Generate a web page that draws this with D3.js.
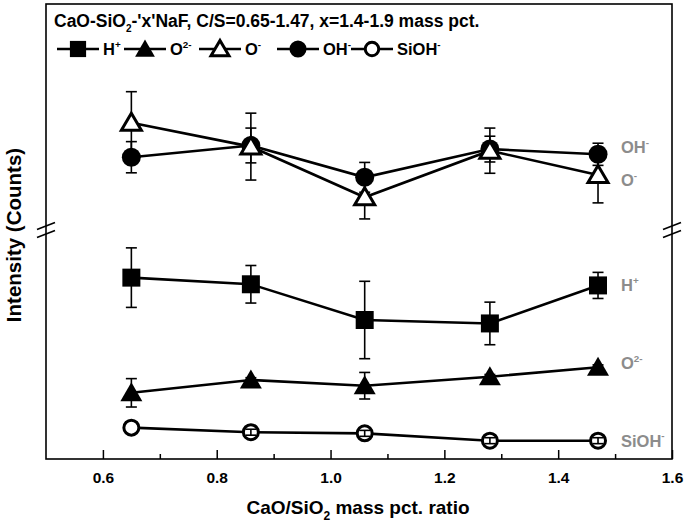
<!DOCTYPE html>
<html><head><meta charset="utf-8">
<script src="https://cdn.jsdelivr.net/npm/d3@7"></script>
<style>body{margin:0;background:#fff}svg{display:block}text{font-family:"Liberation Sans",Arial,sans-serif;font-weight:bold}</style>
</head><body>
<script>
// ---- data (arbitrary intensity units) ----
const ratios = [0.65, 0.86, 1.06, 1.28, 1.47];
// lower panel
const hPlus = [79.2, 76.3, 60.7, 59.2, 75.8];
const hPlusErr = [13.0, 8.2, 16.9, 9.3, 5.7];
const o2Minus = [28.9, 34.5, 32.0, 35.9, 40.1];
const o2MinusErr = [6.2, 1.0, 5.8, 1.0, 1.0];
const siOH = [13.7, 11.7, 11.2, 8.0, 8.0];
const siOHErr = [0, 1.3, 1.3, 1.3, 1.3];
// upper panel
const oMinus = [47.5, 36.9, 14.5, 35.1, 24.3];
const oMinusErr = [13.7, 14.8, 9.6, 10.0, 12.3];
const ohMinus = [32.2, 37.4, 23.3, 35.8, 33.5];
const ohMinusErr = [6.9, 7.7, 6.6, 5.7, 4.9];
const xTicks = [0.6, 0.8, 1.0, 1.2, 1.4, 1.6];
const xMinorTicks = [0.7, 0.9, 1.1, 1.3, 1.5];
const seriesNames = ["H", "O", "O", "OH", "SiOH"];
const seriesCharges = ["+", "2-", "-", "-", "-"];

(function () {
const W = 685, H = 528;
const pL = 46, pR = 672, pT = 4, pB = 459, brk = 230;
const svg = d3.select("body").append("svg").attr("width", W).attr("height", H);

const x = d3.scaleLinear().domain([0.5, 1.6]).range([pL, pR]);
const yLow = d3.scaleLinear().domain([0, 100]).range([pB, brk]);
const yHigh = d3.scaleLinear().domain([0, 100]).range([brk, pT]);

// frame
svg.append("rect").attr("x", pL).attr("y", pT).attr("width", pR - pL).attr("height", pB - pT)
  .attr("fill", "none").attr("stroke", "#000").attr("stroke-width", 1.6);

// x axis
const gx = svg.append("g").attr("transform", `translate(0,${pB})`)
  .call(d3.axisBottom(x).tickValues(xTicks).tickSize(-9).tickPadding(13).tickFormat(d3.format(".1f")));
gx.select(".domain").remove();
gx.selectAll(".tick line").attr("stroke-width", 1.5);
gx.selectAll("text").attr("font-size", 15.5).attr("font-family", '"Liberation Sans",Arial,sans-serif').attr("font-weight", "bold").attr("fill", "#000");
const gxm = svg.append("g").attr("transform", `translate(0,${pB})`)
  .call(d3.axisBottom(x).tickValues(xMinorTicks).tickSize(-5).tickFormat(""));
gxm.select(".domain").remove();
gxm.selectAll(".tick line").attr("stroke-width", 1.5);

// axis breaks
[pL, pR].forEach(ax => {
  [-4, 4].forEach(off => {
    svg.append("line").attr("x1", ax - 9).attr("y1", brk + off + 3.5)
      .attr("x2", ax + 9).attr("y2", brk + off - 3.5)
      .attr("stroke", "#000").attr("stroke-width", 1.6);
  });
});

// axis titles
const xt = svg.append("text").attr("x", 358).attr("y", 514).attr("text-anchor", "middle").attr("font-size", 19);
xt.append("tspan").text("CaO/SiO");
xt.append("tspan").text("2").attr("font-size", 12).attr("dy", 6);
xt.append("tspan").text(" mass pct. ratio").attr("dy", -6);
svg.append("text").attr("transform", "translate(21,235) rotate(-90)").attr("text-anchor", "middle")
  .attr("font-size", 20.5).text("Intensity (Counts)");

// marker shapes
function markerPath(type) {
  if (type === "square") return "M-9,-9H9V9H-9Z";
  if (type === "triangle") return "M0,-10.5L11,8.5L-11,8.5Z";
  if (type === "otriangle") return "M0,-9.5L10,7.5L-10,7.5Z";
  return null;
}
function drawMarker(g, type, cx, cy, scale) {
  scale = scale || 1;
  if (type === "circle") {
    g.append("circle").attr("cx", cx).attr("cy", cy).attr("r", 9.5 * scale).attr("fill", "#000");
  } else if (type === "ocircle") {
    g.append("circle").attr("cx", cx).attr("cy", cy).attr("r", 7.5 * scale).attr("fill", "#fff")
      .attr("stroke", "#000").attr("stroke-width", 3);
  } else if (type === "otriangle") {
    g.append("path").attr("d", markerPath(type)).attr("transform", `translate(${cx},${cy}) scale(${scale})`)
      .attr("fill", "#fff").attr("stroke", "#000").attr("stroke-width", 3 / scale).attr("stroke-linejoin", "miter");
  } else {
    g.append("path").attr("d", markerPath(type)).attr("transform", `translate(${cx},${cy}) scale(${scale})`).attr("fill", "#000");
  }
}

function drawSeries(vals, errs, y, type, errOnTop) {
  const g = svg.append("g");
  const pts = ratios.map((r, i) => [x(r), y(vals[i])]);
  g.append("path").attr("d", d3.line()(pts)).attr("fill", "none").attr("stroke", "#000").attr("stroke-width", 2.6);
  const drawErr = () => {
    ratios.forEach((r, i) => {
      if (!errs[i]) return;
      const cx = x(r), y1 = y(vals[i] + errs[i]), y2 = y(vals[i] - errs[i]);
      g.append("line").attr("x1", cx).attr("x2", cx).attr("y1", y1).attr("y2", y2).attr("stroke", "#000").attr("stroke-width", 1.6);
      [y1, y2].forEach(yy => g.append("line").attr("x1", cx - 5.5).attr("x2", cx + 5.5).attr("y1", yy).attr("y2", yy)
        .attr("stroke", "#000").attr("stroke-width", 1.6));
    });
  };
  if (!errOnTop) drawErr();
  pts.forEach(p => drawMarker(g, type, p[0], p[1]));
  if (errOnTop) drawErr();
}

drawSeries(ohMinus, ohMinusErr, yHigh, "circle");
drawSeries(oMinus, oMinusErr, yHigh, "otriangle");
drawSeries(hPlus, hPlusErr, yLow, "square");
drawSeries(o2Minus, o2MinusErr, yLow, "triangle");
drawSeries(siOH, siOHErr, yLow, "ocircle", true);

// right-side labels
function supLabel(g, xx, yy, base, sup, size, fill) {
  const t = g.append("text").attr("x", xx).attr("y", yy).attr("font-size", size).attr("fill", fill);
  t.append("tspan").text(base);
  t.append("tspan").text(sup).attr("font-size", size * 0.6).attr("dy", -size * 0.45);
  return t;
}
const lab = svg.append("g");
const grey = "#8c8c8c";
const labX = 621;
supLabel(lab, labX, yHigh(ohMinus[4]) - 1, seriesNames[3], seriesCharges[3], 16.5, grey);
supLabel(lab, labX, yHigh(oMinus[4]) + 11, seriesNames[2], seriesCharges[2], 16.5, grey);
supLabel(lab, labX, yLow(hPlus[4]) + 6, seriesNames[0], seriesCharges[0], 16.5, grey);
supLabel(lab, labX, yLow(o2Minus[4]) + 2, seriesNames[1], seriesCharges[1], 16.5, grey);
supLabel(lab, labX, yLow(siOH[4]) + 6, seriesNames[4], seriesCharges[4], 16.5, grey);

// legend title
const tt = svg.append("text").attr("x", 54).attr("y", 27).attr("font-size", 17.5);
tt.append("tspan").text("CaO-SiO");
tt.append("tspan").text("2").attr("font-size", 10).attr("dy", 5);
tt.append("tspan").text("-'x'NaF, C/S=0.65-1.47, x=1.4-1.9 mass pct.").attr("dy", -5);

// legend row
const legendTypes = ["square", "triangle", "otriangle", "circle", "ocircle"];
const legendLineStart = [57, 124, 199, 277, 351];
const lg = svg.append("g");
const ly = 49;
legendTypes.forEach((type, i) => {
  const x0 = legendLineStart[i];
  lg.append("line").attr("x1", x0).attr("x2", x0 + 42).attr("y1", ly).attr("y2", ly).attr("stroke", "#000").attr("stroke-width", 2.6);
  drawMarker(lg, type, x0 + 21, ly, 0.9);
  supLabel(lg, x0 + 46, ly + 6, seriesNames[i], seriesCharges[i], 16.5, "#000");
});
})();
</script>
</body></html>
